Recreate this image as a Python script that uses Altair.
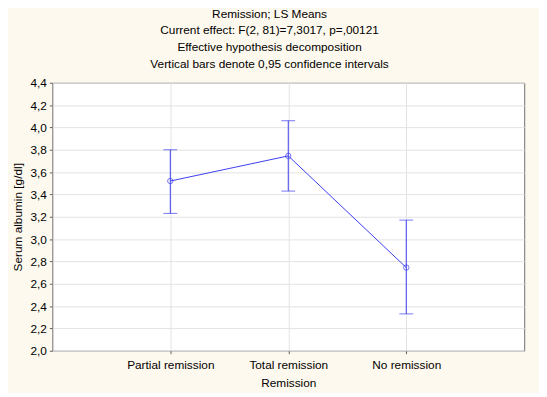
import altair as alt
import pandas as pd

categories = ["Partial remission", "Total remission", "No remission"]
means = [3.52, 3.745, 2.745]
lowers = [3.23, 3.43, 2.33]
uppers = [3.80, 4.06, 3.17]
y_ticks = [2.0, 2.2, 2.4, 2.6, 2.8, 3.0, 3.2, 3.4, 3.6, 3.8, 4.0, 4.2, 4.4]

df = pd.DataFrame({"cat": categories, "mean": means, "lo": lowers, "hi": uppers})

FONT = "Liberation Sans"
BLUE = "#3c3cf0"

x = alt.X("cat:N", sort=categories, title="Remission",
          scale=alt.Scale(type="point", padding=1),
          axis=alt.Axis(labelAngle=0, grid=True, gridColor="#e3e3e3", domain=False,
                        tickColor="#606060", tickSize=3, labelPadding=6, titlePadding=7,
                        labelFontSize=12, titleFontSize=12, labelFont=FONT, titleFont=FONT,
                        labelColor="#000", titleColor="#000", titleFontWeight="normal"))
yscale = alt.Scale(domain=[2.0, 4.4], nice=False, zero=False)
yaxis = alt.Axis(values=y_ticks, grid=True, gridColor="#e3e3e3", domain=False,
                 tickColor="#606060", tickSize=3, labelPadding=3, titlePadding=6,
                 labelOverlap=False, labelFlush=False,
                 labelExpr="replace(format(datum.value, '.1f'), '.', ',')",
                 labelFontSize=12, titleFontSize=12, labelFont=FONT, titleFont=FONT,
                 labelColor="#000", titleColor="#000", titleFontWeight="normal")
YT = "Serum albumin [g/dl]"

base = alt.Chart(df)
line = base.mark_line(color=BLUE, strokeWidth=1).encode(
    x=x, y=alt.Y("mean:Q", scale=yscale, axis=yaxis, title=YT))
pts = base.mark_point(shape="circle", filled=False, color=BLUE, size=30, strokeWidth=1).encode(
    x=x, y=alt.Y("mean:Q", scale=yscale, axis=yaxis, title=YT))
bars = base.mark_rule(color=BLUE, strokeWidth=1).encode(
    x=x, y=alt.Y("lo:Q", scale=yscale, axis=yaxis, title=YT), y2="hi:Q")
cap_lo = base.mark_tick(color=BLUE, orient="horizontal", size=14, thickness=1).encode(
    x=x, y=alt.Y("lo:Q", scale=yscale, axis=yaxis, title=YT))
cap_hi = base.mark_tick(color=BLUE, orient="horizontal", size=14, thickness=1).encode(
    x=x, y=alt.Y("hi:Q", scale=yscale, axis=yaxis, title=YT))

chart = alt.layer(bars, cap_lo, cap_hi, line, pts).properties(
    width=479, height=272,
    autosize=alt.AutoSizeParams(type="none"),
    padding={"left": 45, "top": 73, "right": 15, "bottom": 40},
    background="#fef9ee",
    title=alt.TitleParams(
        text=["Remission; LS Means",
              "Current effect: F(2, 81)=7,3017, p=,00121",
              "Effective hypothesis decomposition",
              "Vertical bars denote 0,95 confidence intervals"],
        font=FONT, fontSize=12, fontWeight="normal", color="#000",
        lineHeight=17, anchor="middle", dx=-19, offset=6),
).configure_view(stroke="#707070", strokeWidth=1, fill="white")

chart.save("out.html", embed_options={"renderer": "svg", "actions": False})
